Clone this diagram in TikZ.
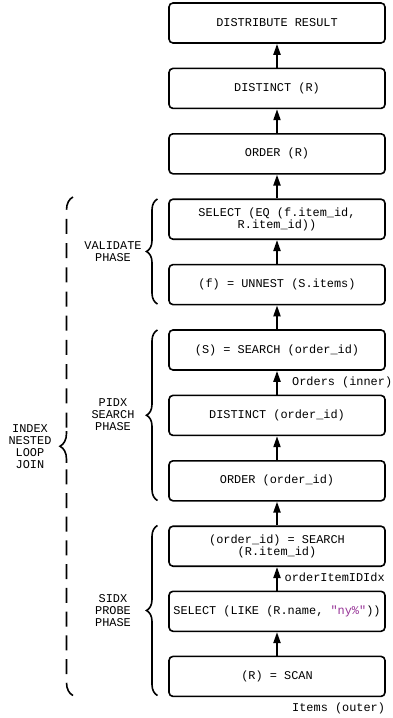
\documentclass[tikz,border=0pt]{standalone}
\usepackage{fontspec}
\setmonofont{Liberation Mono}
\usetikzlibrary{arrows.meta,decorations.pathreplacing}
\definecolor{strpurple}{RGB}{150,50,150}
\begin{document}
\begin{tikzpicture}[x=1pt,y=-1pt,
  mono/.style={font=\ttfamily\fontsize{11.9}{12}\selectfont},
  op/.style={mono,draw,line width=1.6pt,rounded corners=4pt,
    minimum width=216pt,minimum height=40pt,inner sep=0pt,align=center},
  flow/.style={line width=2pt,-{Triangle[length=11pt,width=7pt]}},
  note/.style={mono,inner sep=0pt,anchor=west},
  phaselbl/.style={mono,inner sep=0pt,align=center},
  phase/.style={decorate,decoration={brace,amplitude=11pt},line width=1.6pt},
  outer/.style={decorate,decoration={brace,amplitude=13pt},line width=1.6pt},
]
\useasboundingbox (0,0) rectangle (393,718);

% operator boxes, top to bottom
\node[op] (b1)  at (277,23)    {DISTRIBUTE RESULT};
\node[op] (b2)  at (277,88.4)  {DISTINCT (R)};
\node[op] (b3)  at (277,153.8) {ORDER (R)};
\node[op] (b4)  at (277,219.2) {SELECT (EQ (f.item\_id,\\R.item\_id))};
\node[op] (b5)  at (277,284.6) {(f) = UNNEST (S.items)};
\node[op] (b6)  at (277,350)   {(S) = SEARCH (order\_id)};
\node[op] (b7)  at (277,415.4) {DISTINCT (order\_id)};
\node[op] (b8)  at (277,480.8) {ORDER (order\_id)};
\node[op] (b9)  at (277,546.2) {(order\_id) = SEARCH\\(R.item\_id)};
\node[op] (b10) at (277,611.3) {SELECT (LIKE (R.name, \textcolor{strpurple}{"ny\%"}))};
\node[op] (b11) at (277,676.4) {(R) = SCAN};

% data flow, bottom to top
\foreach \lo/\hi in {b11/b10,b10/b9,b9/b8,b8/b7,b7/b6,b6/b5,b5/b4,b4/b3,b3/b2,b2/b1}
  \draw[flow] (\lo.north) -- (\hi.south);

% access path notes
\node[note] (n1) at (292,382.5) {Orders (inner)};
\node[note] (n2) at (284.5,577.5) {orderItemIDIdx};
\node[note] (n3) at (292,708)   {Items (outer)};

% phase braces
\coordinate (v1) at (157.5,304);  \coordinate (v2) at (157.5,199);
\coordinate (p1) at (157.5,500.5);\coordinate (p2) at (157.5,330);
\coordinate (s1) at (157.5,695.5);\coordinate (s2) at (157.5,525.5);
\draw[phase] (v1) -- (v2);
\draw[phase] (p1) -- (p2);
\draw[phase] (s1) -- (s2);
\node[phaselbl] (lv) at (113,251.5) {VALIDATE\\PHASE};
\node[phaselbl] (lp) at (113,415)   {PIDX\\SEARCH\\PHASE};
\node[phaselbl] (ls) at (113,610.5) {SIDX\\PROBE\\PHASE};

% join brace: dashed upper and lower halves, solid middle piece with the tip
\coordinate (j1) at (73,695.5); \coordinate (j2) at (73,197);
\begin{scope}
  \clip (40,190) rectangle (90,429);
  \draw[outer,decoration={mirror},dash pattern=on 15pt off 9.2pt] (j2) -- (j1);
\end{scope}
\begin{scope}
  \clip (40,468) rectangle (90,705);
  \draw[outer,dash pattern=on 15pt off 8.72pt] (j1) -- (j2);
\end{scope}
\begin{scope}
  \clip (40,431.5) rectangle (90,462.5);
  \draw[outer] (j1) -- (j2);
\end{scope}
\node[phaselbl] (lj) at (30,447) {INDEX\\NESTED\\LOOP\\JOIN};
\end{tikzpicture}
\end{document}
